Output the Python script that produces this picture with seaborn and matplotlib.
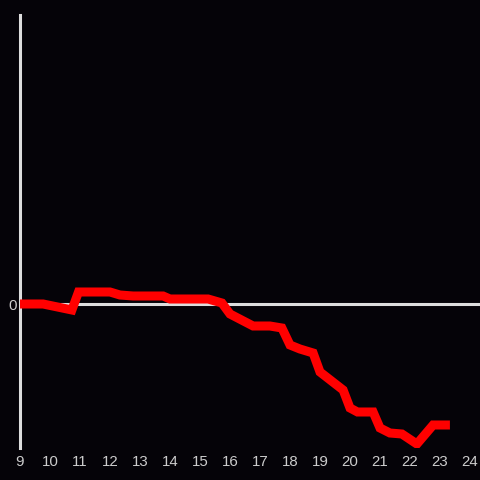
import matplotlib
matplotlib.use("Agg")
import matplotlib.pyplot as plt
import seaborn as sns
import pandas as pd

hours = [9, 9.77, 10.73, 10.95, 12, 12.33, 12.77, 13.77, 14, 15.27, 15.73, 16,
         16.77, 17.33, 17.73, 18, 18.33, 18.77, 19, 19.77, 20, 20.25, 20.77,
         21, 21.33, 21.73, 22.23, 22.77, 23.33]
values = [0, 0, -0.6, 1.2, 1.2, 0.9, 0.8, 0.8, 0.5, 0.5, 0.1, -1.0, -2.2, -2.2,
          -2.4, -4.1, -4.5, -4.9, -6.8, -8.6, -10.4, -10.8, -10.8, -12.4, -12.9,
          -13.0, -14.0, -12.1, -12.1]
xticks = list(range(9, 25))

bg = "#050308"
fg = "#dddddd"
sns.set_style("dark", {"axes.facecolor": bg, "figure.facecolor": bg})
plt.rcParams["font.family"] = ["Liberation Sans", "DejaVu Sans"]

df = pd.DataFrame({"hour": hours, "value": values})
fig = plt.figure(figsize=(4.8, 4.8), dpi=100)
ax = fig.add_axes([20/480, 32/480, 460/480, 433/480])
ax.axhline(0, color=fg, lw=2.2, zorder=1)
sns.lineplot(data=df, x="hour", y="value", color="#ff0000", lw=6.5, ax=ax,
             zorder=3, solid_joinstyle="miter", solid_capstyle="butt")
ax.set_xlim(9, 24.333)
ax.set_ylim(-14.4, 28.9)
ax.set_xticks(xticks)
ax.set_xticklabels([str(t) for t in xticks])
ax.set_yticks([0])
ax.set_yticklabels(["0"])
ax.tick_params(colors="#cccccc", length=0, labelsize=10.8)
ax.tick_params(axis="x", pad=5)
ax.tick_params(axis="y", pad=2.5)
ax.set_xlabel("")
ax.set_ylabel("")
ax.grid(False)
for s in ["top", "right", "bottom"]:
    ax.spines[s].set_visible(False)
ax.spines["left"].set_visible(True)
ax.spines["left"].set_color(fg)
ax.spines["left"].set_linewidth(2.2)
fig.savefig("out.png", dpi=100, facecolor=bg)
